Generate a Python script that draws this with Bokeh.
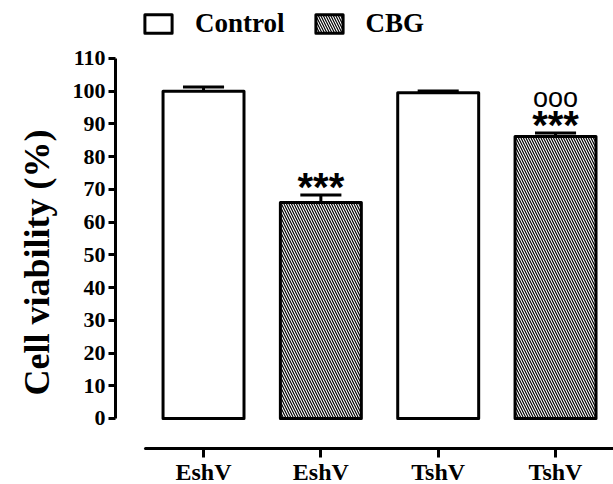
from bokeh.plotting import figure
from bokeh.models import Range1d, LinearAxis, FixedTicker, Legend, LegendItem, ColumnDataSource, Title
from bokeh.core.properties import value
from bokeh.embed import file_html
from bokeh.resources import INLINE

# ---- data ----
groups = ["EshV", "EshV", "TshV", "TshV"]
treatments = ["Control", "CBG", "Control", "CBG"]
viability = [100.0, 66.0, 99.5, 86.2]
sem = [1.3, 2.3, 0.6, 1.0]
stars = ["", "***", "", "***"]
circles = ["", "", "", "ooo"]
y_ticks = [0, 10, 20, 30, 40, 50, 60, 70, 80, 90, 100, 110]

xpos = [1, 2, 3, 4]
SERIF = "Liberation Serif"
SANS = "Liberation Sans"

p = figure(width=613, height=484, output_backend="svg", toolbar_location=None,
           x_range=Range1d(0.2498, 4.494), y_range=Range1d(-20.17, 127.72),
           min_border_left=115, min_border_right=0, min_border_top=0, min_border_bottom=0,
           x_axis_location=None, y_axis_location=None)
p.outline_line_color = None
p.grid.visible = False
p.background_fill_color = "white"

# y axis
yax = LinearAxis(bounds=(0, 110), ticker=FixedTicker(ticks=y_ticks))
yax.axis_line_width = 3
yax.major_tick_line_width = 3
yax.major_tick_in = 0
yax.major_tick_out = 7
yax.minor_tick_line_color = None
yax.major_label_text_font = SERIF
yax.major_label_text_font_style = "bold"
yax.major_label_text_font_size = "22px"
yax.major_label_text_color = "black"
yax.major_label_standoff = 3
p.add_layout(yax, "left")

# x axis (offset below the bars)
xax = LinearAxis(bounds=(0.506, 4.494), ticker=FixedTicker(ticks=xpos), fixed_location=-9.167)
xax.major_label_overrides = {x: g for x, g in zip(xpos, groups)}
xax.axis_line_width = 3
xax.major_tick_line_width = 3
xax.major_tick_in = 0
xax.major_tick_out = 9
xax.minor_tick_line_color = None
xax.major_label_text_font = SERIF
xax.major_label_text_font_style = "bold"
xax.major_label_text_font_size = "24px"
xax.major_label_text_color = "black"
xax.major_label_standoff = 2
xax.axis_line_cap = "round"
p.add_layout(xax, "below")

ctrl_x = [x for x, t in zip(xpos, treatments) if t == "Control"]
ctrl_v = [v for v, t in zip(viability, treatments) if t == "Control"]
cbg_x = [x for x, t in zip(xpos, treatments) if t == "CBG"]
cbg_v = [v for v, t in zip(viability, treatments) if t == "CBG"]

r_ctrl = p.vbar(x=ctrl_x, top=ctrl_v, bottom=0, width=0.69, fill_color="white",
                line_color="black", line_width=3, line_join="round")
r_cbg = p.vbar(x=cbg_x, top=cbg_v, bottom=0, width=0.69, fill_color="white",
               line_color="black", line_width=3, line_join="round",
               hatch_pattern="\\", hatch_color="black", hatch_scale=5, hatch_weight=1.2)

# error bars (upper only)
tops = [v + e for v, e in zip(viability, sem)]
p.segment(x0=xpos, y0=viability, x1=xpos, y1=tops, line_color="black", line_width=3)
p.segment(x0=[x - 0.175 for x in xpos], y0=tops, x1=[x + 0.175 for x in xpos], y1=tops,
          line_color="black", line_width=3)

# significance marks
src = ColumnDataSource(dict(x=xpos, y=tops, s=stars, c=circles))
p.text(x="x", y="y", text="s", source=src, text_font=value(SANS), text_font_style="bold",
       text_font_size="40px", text_align="center", text_baseline="middle", y_offset=-8,
       text_color="black")
p.text(x="x", y="y", text="c", source=src, text_font=value(SANS), text_font_size="27px",
       text_align="center", text_baseline="middle", y_offset=-35, text_color="black")

# y label
p.add_layout(Title(text="Cell viability (%)", align="left", offset=89, standoff=25,
                   text_font=SERIF, text_font_style="bold", text_font_size="36px",
                   text_color="black"), "left")

legend = Legend(items=[LegendItem(label="Control", renderers=[r_ctrl]),
                       LegendItem(label="CBG", renderers=[r_cbg])],
                location=(26, 445), orientation="horizontal", padding=0, margin=0,
                spacing=27, label_standoff=20, glyph_width=34, glyph_height=23,
                label_text_font=SERIF, label_text_font_style="bold",
                label_text_font_size="27px", label_text_color="black",
                border_line_color=None, background_fill_alpha=0)
p.add_layout(legend)

open("out.html", "w").write(file_html(p, INLINE))
